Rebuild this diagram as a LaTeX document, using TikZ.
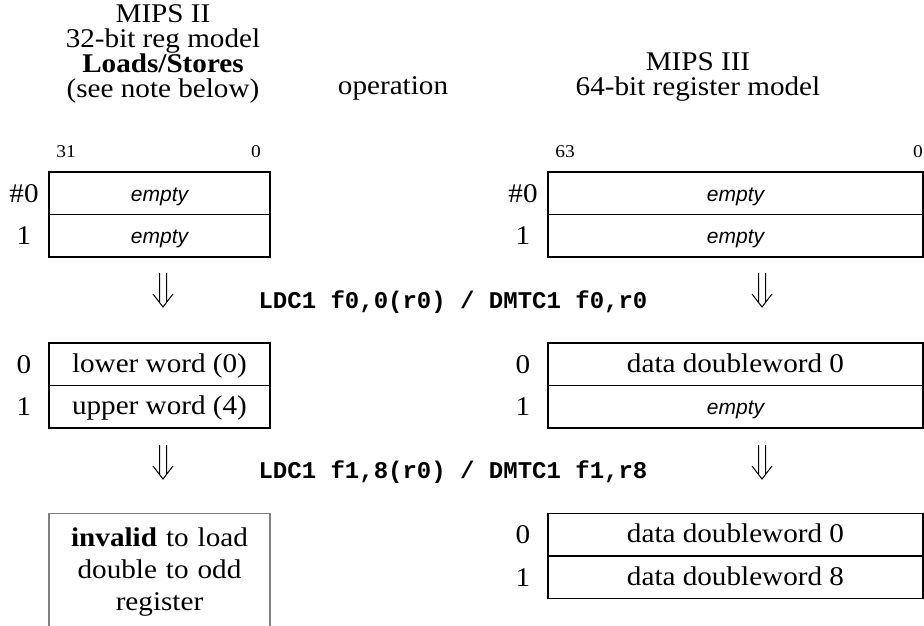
\documentclass[tikz,border=0pt]{standalone}
\usepackage{fontspec}
\setmainfont{Liberation Serif}[FakeStretch=1.08]
\newfontfamily\emptyfont{Liberation Sans}
\newfontfamily\codefont{Liberation Mono}
\begin{document}
\begin{tikzpicture}[x=1pt,y=-1pt,
  txt/.style={font=\fontsize{27}{24.5}\selectfont, inner sep=0pt},
  small/.style={font=\fontsize{18}{18}\selectfont, inner sep=0pt},
  row/.style={draw, line width=1.1pt, minimum height=42.5pt, inner sep=0pt,
              text height=20pt, text depth=4pt, font=\fontsize{27}{27}\selectfont},
  lrow/.style={row, minimum width=221pt},
  rrow/.style={row, minimum width=375pt},
  emp/.style={font=\emptyfont\itshape\fontsize{21}{21}\selectfont},
  code/.style={font=\codefont\bfseries\fontsize{24}{24}\selectfont, inner sep=0pt},
  dar/.pic={\draw[line width=1pt] (-3.5,-17) -- (-3.5,12.4) (3.5,-17) -- (3.5,12.4)
                 (-10,4) -- (0,17) -- (10,4);}
]
\clip (0,0) rectangle (924,625);
% headers
\node[txt, align=center] (hl) at (163,54) {MIPS II\\32-bit reg model\\\textbf{Loads/Stores}\\(see note below)};
\node[txt] (hop) at (393,88) {operation};
\node[txt, align=center] (hr) at (698,77) {MIPS III\\64-bit register model};
% bit labels
\node[small] (b31) at (66,152) {31};
\node[small] (b0l) at (256,152) {0};
\node[small] (b63) at (565,152) {63};
\node[small] (b0r) at (918,152) {0};
% row 1
\node[lrow, emp] (l10) at (159.5,193.25) {empty};
\node[lrow, emp] (l11) at (159.5,235.75) {empty};
\node[rrow, emp] (r10) at (735.5,193.25) {empty};
\node[rrow, emp] (r11) at (735.5,235.75) {empty};
\node[txt] (nl10) at (24,193.25) {\#0};
\node[txt] (nl11) at (24,235.75) {1};
\node[txt] (nr10) at (523,193.25) {\#0};
\node[txt] (nr11) at (523,235.75) {1};
% arrows 1
\pic (al1) at (163,290) {dar};
\pic (ar1) at (762,290) {dar};
\node[code] (op1) at (453,302) {LDC1 f0,0(r0) / DMTC1 f0,r0};
% row 2
\node[lrow] (l20) at (159.5,364.25) {lower word (0)};
\node[lrow] (l21) at (159.5,406.75) {upper word (4)};
\node[rrow] (r20) at (735.5,364.25) {data doubleword 0};
\node[rrow, emp] (r21) at (735.5,406.75) {empty};
\node[txt] (nl20) at (24,364.25) {0};
\node[txt] (nl21) at (24,406.75) {1};
\node[txt] (nr20) at (523,364.25) {0};
\node[txt] (nr21) at (523,406.75) {1};
% arrows 2
\pic (al2) at (163,462) {dar};
\pic (ar2) at (762,462) {dar};
\node[code] (op2) at (453,472) {LDC1 f1,8(r0) / DMTC1 f1,r8};
% row 3
\node[draw=gray, line width=1.1pt, minimum width=221pt, anchor=north,
      font=\fontsize{27}{32}\selectfont, align=center, text width=221pt,
      inner xsep=0pt, inner ysep=14pt] (inv) at (159.5,513)
      {\textbf{invalid} to load\\double to odd\\register};
\node[rrow] (r30) at (735.5,534.75) {data doubleword 0};
\node[rrow] (r31) at (735.5,577.25) {data doubleword 8};
\node[txt] (nr30) at (523,534.75) {0};
\node[txt] (nr31) at (523,577.25) {1};
\end{tikzpicture}
\end{document}
